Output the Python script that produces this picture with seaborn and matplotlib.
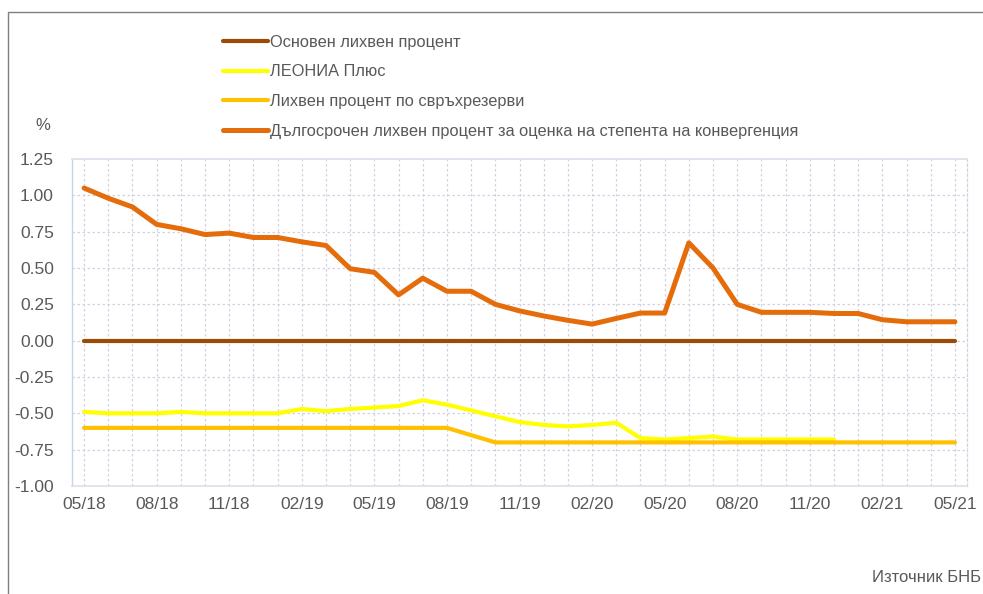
import matplotlib
matplotlib.use("Agg")
import matplotlib.pyplot as plt
import seaborn as sns
import pandas as pd
import numpy as np
from matplotlib.patches import Rectangle

months = ["05/18","06/18","07/18","08/18","09/18","10/18","11/18","12/18",
          "01/19","02/19","03/19","04/19","05/19","06/19","07/19","08/19",
          "09/19","10/19","11/19","12/19","01/20","02/20","03/20","04/20",
          "05/20","06/20","07/20","08/20","09/20","10/20","11/20","12/20",
          "01/21","02/21","03/21","04/21","05/21"]

base_rate = [0.00]*37

leonia = [-0.49,-0.50,-0.50,-0.50,-0.49,-0.50,-0.50,-0.50,
          -0.50,-0.47,-0.485,-0.47,-0.46,-0.45,-0.41,-0.44,
          -0.48,-0.52,-0.56,-0.58,-0.59,-0.58,-0.565,-0.67,
          -0.68,-0.67,-0.66,-0.68,-0.68,-0.68,-0.68,-0.68,
          None,None,None,None,None]

excess = [-0.60]*16 + [-0.65] + [-0.70]*20

long_term = [1.05,0.98,0.92,0.80,0.77,0.73,0.74,0.71,
             0.71,0.68,0.655,0.495,0.47,0.315,0.43,0.34,
             0.34,0.25,0.205,0.17,0.14,0.114,0.153,0.19,
             0.19,0.673,0.50,0.25,0.195,0.195,0.195,0.187,
             0.187,0.144,0.13,0.13,0.13]

names = ["Основен лихвен процент", "ЛЕОНИА Плюс",
         "Лихвен процент по свръхрезерви",
         "Дългосрочен лихвен процент за оценка на степента на конвергенция"]
colors = ["#9C4A06", "#FFFF00", "#FFC000", "#E46C0A"]
widths = [3.0, 3.0, 3.0, 3.6]

rows = []
for name, vals in zip(names, [base_rate, leonia, excess, long_term]):
    for i, v in enumerate(vals):
        rows.append({"idx": i, "value": (np.nan if v is None else v), "series": name})
df = pd.DataFrame(rows)

sns.set_theme(style="white")
plt.rcParams['font.family'] = ['Liberation Sans', 'DejaVu Sans']

fig = plt.figure(figsize=(9.83, 5.94), dpi=100)
ax = fig.add_axes([72/983, (594-486)/594, (967-72)/983, (486-159)/594])

for name, col, lw in zip(names, colors, widths):
    sub = df[df["series"] == name]
    sns.lineplot(data=sub, x="idx", y="value", color=col, linewidth=lw,
                 ax=ax, label=name, legend=False, zorder=3)

ax.set_xlim(-0.5, 36.5)
ax.set_ylim(-1.0, 1.25)
yt = np.arange(-1.0, 1.26, 0.25)
ax.set_yticks(yt)
ax.set_yticklabels([f"{v:.2f}" for v in yt], color="#595959", fontsize=12.5)
ax.set_xticks(range(0, 37, 3))
ax.set_xticklabels(months[::3], color="#595959", fontsize=12.5)
ax.tick_params(axis="y", which="both", length=0, pad=13)
ax.tick_params(axis="x", which="both", length=0, pad=8)
ax.set_xlabel("")
ax.set_ylabel("")

ax.grid(False)
for y in np.arange(-0.75, 1.25, 0.25):
    ax.axhline(y, color="#D4D0E4", linewidth=0.9, linestyle=(0, (2, 2)), zorder=1)
for x in range(37):
    ax.axvline(x, color="#D4D0E4", linewidth=0.9, linestyle=(0, (2, 2)), zorder=1)

for s in ["top", "bottom"]:
    ax.spines[s].set_color("#E0DCEA")
    ax.spines[s].set_linewidth(1.2)
ax.spines["left"].set_color("#BDD7EE")
ax.spines["left"].set_linewidth(1.0)
ax.spines["right"].set_color("#D4D0E4")
ax.spines["right"].set_linestyle((0, (2, 2)))
ax.spines["right"].set_linewidth(0.9)

handles, labels = ax.get_legend_handles_labels()
fig.legend(handles, labels, loc="upper left",
           bbox_to_anchor=(216/983, 1 - 28/594), frameon=False,
           fontsize=11.8, labelcolor="#595959", handlelength=2.75,
           handletextpad=0.15, labelspacing=0.9, borderaxespad=0)

fig.text(35/983, 1 - 125/594, "%", fontsize=12, color="#595959",
         ha="left", va="center")
fig.text(981/983, 1 - 578/594, "Източник БНБ", fontsize=12, color="#595959",
         ha="right", va="center")

fig.add_artist(Rectangle((8/983, -0.05), 1.1, 1 - 12/594 + 0.05,
                         transform=fig.transFigure, fill=False,
                         edgecolor="#7F7F7F", linewidth=1.0))

fig.savefig("out.png", dpi=100)
